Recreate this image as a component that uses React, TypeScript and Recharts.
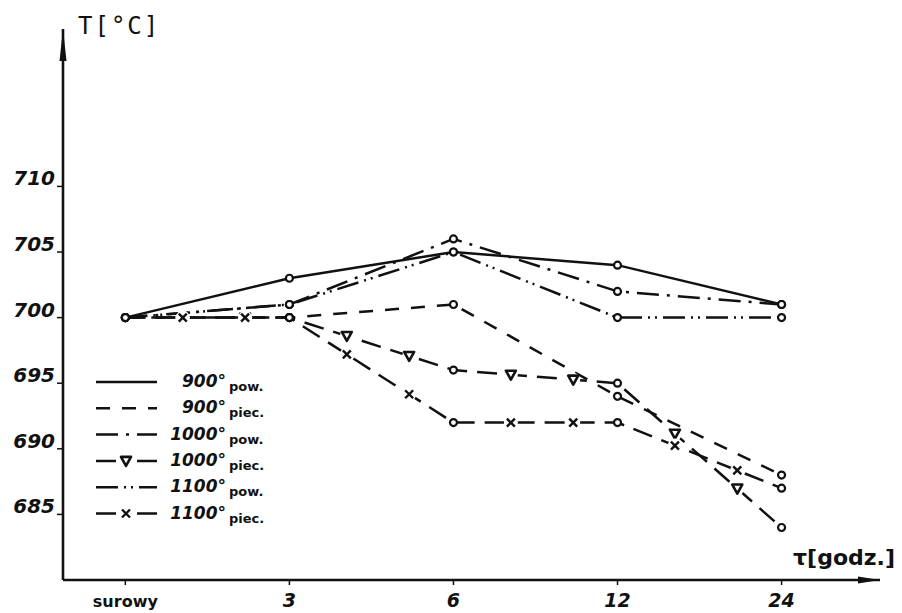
import React from "react";
import { LineChart, Line, XAxis, YAxis, Legend } from "recharts";

// czas wyżarzania [godz.]
const categories = ["surowy", "3", "6", "12", "24"];

// temperatura [°C]
const pow900 = [700, 703, 705, 704, 701];
const piec900 = [700, 700, 701, 694, 688];
const pow1000 = [700, 701, 706, 702, 701];
const piec1000 = [700, 700, 696, 695, 684];
const pow1100 = [700, 701, 705, 700, 700];
const piec1100 = [700, 700, 692, 692, 687];

const yTicks = [685, 690, 695, 700, 705, 710];

type Mark = "tri" | "cross" | null;

const series: { key: string; num: string; sub: string; values: number[]; dash?: string; mark: Mark }[] = [
  { key: "pow900", num: "900°", sub: "pow.", values: pow900, dash: undefined, mark: null },
  { key: "piec900", num: "900°", sub: "piec.", values: piec900, dash: "14 12", mark: null },
  { key: "pow1000", num: "1000°", sub: "pow.", values: pow1000, dash: "22 8 3 8", mark: null },
  { key: "piec1000", num: "1000°", sub: "piec.", values: piec1000, dash: "20 10", mark: "tri" },
  { key: "pow1100", num: "1100°", sub: "pow.", values: pow1100, dash: "22 6 2 5 2 6", mark: null },
  { key: "piec1100", num: "1100°", sub: "piec.", values: piec1100, dash: "20 10", mark: "cross" },
];

const data = categories.map((c, i) => {
  const row: Record<string, number | string> = { i, cat: c };
  series.forEach((s) => (row[s.key] = s.values[i]));
  return row;
});

const INK = "#111";
const handFont = "'DejaVu Sans', sans-serif";

const MarkGlyph = ({ x, y, mark }: { x: number; y: number; mark: Mark }) => {
  if (mark === "tri") {
    return (
      <g>
        <circle cx={x} cy={y} r={7} fill="#fff" />
        <path d={`M${x - 5},${y - 4} L${x + 5},${y - 4} L${x},${y + 5} Z`} fill="#fff" stroke={INK} strokeWidth={2.6} strokeLinejoin="round" />
      </g>
    );
  }
  if (mark === "cross") {
    return (
      <g>
        <circle cx={x} cy={y} r={7} fill="#fff" />
        <path d={`M${x - 4},${y - 4} L${x + 4},${y + 4} M${x + 4},${y - 4} L${x - 4},${y + 4}`} stroke={INK} strokeWidth={2.4} />
      </g>
    );
  }
  return null;
};

const makeDot = (mark: Mark) => (props: any) => {
  const { cx, cy, index, points } = props;
  const next = points && points[index + 1];
  return (
    <g key={`dot-${index}`}>
      {mark && next
        ? [0.35, 0.73].map((f) => (
            <MarkGlyph key={f} mark={mark} x={cx + (next.x - cx) * f} y={cy + (next.y - cy) * f} />
          ))
        : null}
      <circle cx={cx} cy={cy} r={3.5} fill="#fff" stroke={INK} strokeWidth={2.2} />
    </g>
  );
};

const YTick = ({ x, y, payload }: any) => (
  <text x={x} y={y - 1} textAnchor="end" fontFamily={handFont} fontStyle="italic" fontWeight="bold" fontSize={20} fill={INK}>
    {payload.value}
  </text>
);

const XTick = ({ x, y, payload }: any) => {
  const label = categories[payload.value] ?? "";
  const isWord = label === "surowy";
  return (
    <text
      x={x}
      y={y + 20}
      textAnchor="middle"
      fontFamily={handFont}
      fontStyle={isWord ? "normal" : "italic"}
      fontWeight="bold"
      fontSize={isWord ? 16 : 19}
      fill={INK}
    >
      {label}
    </text>
  );
};

const LegendBox = () => (
  <svg width={220} height={160}>
    {series.map((s, k) => {
      const y = 12 + k * 26.3;
      return (
        <g key={s.key}>
          <line x1={6} x2={67} y1={y} y2={y} stroke={INK} strokeWidth={2.5} strokeDasharray={s.mark ? "20 21" : s.dash} />
          {s.mark ? <MarkGlyph x={36} y={y} mark={s.mark} /> : null}
          <text x={136} y={y + 5} textAnchor="end" fontFamily={handFont} fontStyle="italic" fontWeight="bold" fontSize={17} fill={INK}>
            {s.num}
          </text>
          <text x={139} y={y + 9} fontFamily={handFont} fontWeight="bold" fontSize={13} fill={INK}>
            {s.sub}
          </text>
        </g>
      );
    })}
  </svg>
);

export default function App() {
  return (
    <div style={{ position: "absolute", left: 0, top: 0, width: 902, height: 613, background: "#fff" }}>
      <svg width={0} height={0} style={{ position: "absolute" }}>
        <defs>
          <marker id="arrowX" markerUnits="userSpaceOnUse" markerWidth={24} markerHeight={10} refX={22} refY={5} orient="auto">
            <path d="M0,1.5 L22,5 L0,8.5 Z" fill={INK} />
          </marker>
          <marker id="arrowY" markerUnits="userSpaceOnUse" markerWidth={34} markerHeight={10} refX={32} refY={5} orient="auto-start-reverse">
            <path d="M0,1.5 L32,5 L0,8.5 Z" fill={INK} />
          </marker>
        </defs>
      </svg>
      <LineChart width={902} height={613} data={data} margin={{ top: 29, right: 22, bottom: 0, left: 8 }}>
        <XAxis
          dataKey="i"
          type="number"
          domain={[-0.38, 4.6]}
          ticks={[0, 1, 2, 3, 4]}
          height={33}
          tick={<XTick />}
          tickSize={5}
          tickMargin={2}
          tickLine={{ stroke: INK, strokeWidth: 1.5 }}
          axisLine={{ stroke: INK, strokeWidth: 2.6, markerEnd: "url(#arrowX)" }}
          label={({ viewBox }: any) => (
            <text x={viewBox.x + viewBox.width + 15} y={viewBox.y - 15} textAnchor="end" fontFamily={handFont} fontWeight="bold" fontSize={22} fill={INK}>
              τ[godz.]
            </text>
          )}
        />
        <YAxis
          type="number"
          domain={[680, 722]}
          ticks={yTicks}
          width={55}
          tick={<YTick />}
          tickSize={6}
          tickMargin={2}
          tickLine={{ stroke: INK, strokeWidth: 1.5 }}
          axisLine={{ stroke: INK, strokeWidth: 2.6, markerStart: "url(#arrowY)" }}
          label={({ viewBox }: any) => (
            <text x={viewBox.x + viewBox.width + 15} y={viewBox.y + 5} fontFamily="'DejaVu Sans Mono', monospace" fontSize={24} letterSpacing={2} fill={INK}>
              T[°C]
            </text>
          )}
        />
        <Legend
          layout="horizontal"
          verticalAlign="middle"
          width={220}
          wrapperStyle={{ left: 90, top: 370, width: 220, height: 160 }}
          content={() => <LegendBox />}
        />
        {series.map((s) => (
          <Line
            key={s.key}
            dataKey={s.key}
            name={`${s.num} ${s.sub}`}
            type="linear"
            stroke={INK}
            strokeWidth={2.5}
            strokeDasharray={s.dash}
            dot={makeDot(s.mark)}
            activeDot={false}
            isAnimationActive={false}
          />
        ))}
      </LineChart>
    </div>
  );
}
